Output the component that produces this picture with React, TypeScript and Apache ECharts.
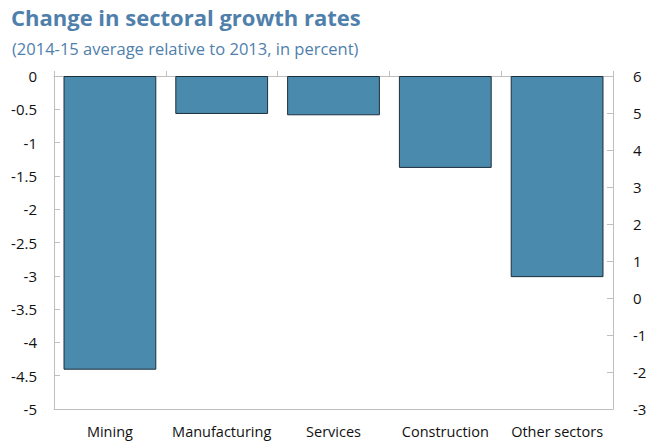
import React, { useEffect, useRef } from "react";
import * as echarts from "echarts";

const categories = ["Mining", "Manufacturing", "Services", "Construction", "Other sectors"];
const values = [-4.41, -0.57, -0.59, -1.38, -3.02];
const titleText = "Change in sectoral growth rates";
const subtitleText = "(2014-15 average relative to 2013, in percent)";

const FONT = "'Open Sans', 'Noto Sans', sans-serif";
const AXIS_GRAY = "#bfbfbf";
const TITLE_BLUE = "#4f80ac";

export default function App() {
  const ref = useRef<HTMLDivElement>(null);
  useEffect(() => {
    if (!ref.current) return;
    const chart = echarts.init(ref.current, null, { renderer: "svg" });
    chart.setOption({
      animation: false,
      backgroundColor: "#ffffff",
      title: [
        {
          text: titleText,
          left: 6,
          top: 1,
          textStyle: { fontFamily: FONT, fontSize: 22, fontWeight: "bold", color: TITLE_BLUE },
        },
        {
          text: subtitleText,
          left: 7,
          top: 35,
          textStyle: { fontFamily: FONT, fontSize: 16.5, fontWeight: "normal", color: TITLE_BLUE },
        },
      ],
      grid: { left: 54, right: 50, top: 76, bottom: 34, containLabel: false },
      xAxis: [
        {
          type: "category",
          data: categories,
          position: "bottom",
          axisLine: { show: true, onZero: false, lineStyle: { color: AXIS_GRAY, width: 1 } },
          axisTick: { show: false },
          axisLabel: { fontFamily: FONT, fontSize: 14.5, color: "#111", margin: 15, interval: 0 },
        },
        {
          type: "category",
          data: categories,
          position: "top",
          axisLine: { show: true, onZero: false, lineStyle: { color: AXIS_GRAY, width: 1 } },
          axisTick: { show: true, alignWithLabel: false, length: 5, lineStyle: { color: AXIS_GRAY } },
          axisLabel: { show: false },
        },
      ],
      yAxis: [
        {
          type: "value",
          min: -5,
          max: 0,
          interval: 0.5,
          position: "left",
          splitLine: { show: false },
          axisLine: { show: true, lineStyle: { color: AXIS_GRAY } },
          axisTick: { show: true, inside: true, length: 6, lineStyle: { color: AXIS_GRAY } },
          axisLabel: { fontFamily: FONT, fontSize: 15, color: "#111", margin: 17 },
        },
        {
          type: "value",
          min: -3,
          max: 6,
          interval: 1,
          position: "right",
          splitLine: { show: false },
          axisLine: { show: true, lineStyle: { color: AXIS_GRAY } },
          axisTick: { show: true, inside: true, length: 6, lineStyle: { color: AXIS_GRAY } },
          axisLabel: { fontFamily: FONT, fontSize: 15, color: "#111", margin: 20 },
        },
      ],
      series: [
        {
          type: "bar",
          data: values,
          xAxisIndex: 0,
          yAxisIndex: 0,
          barWidth: "83%",
          itemStyle: { color: "#4a8aad", borderColor: "#1c2f3c", borderWidth: 1 },
        },
      ],
    });
    return () => chart.dispose();
  }, []);
  return <div ref={ref} style={{ width: 663, height: 443, position: "absolute", left: 0, top: 0 }} />;
}
